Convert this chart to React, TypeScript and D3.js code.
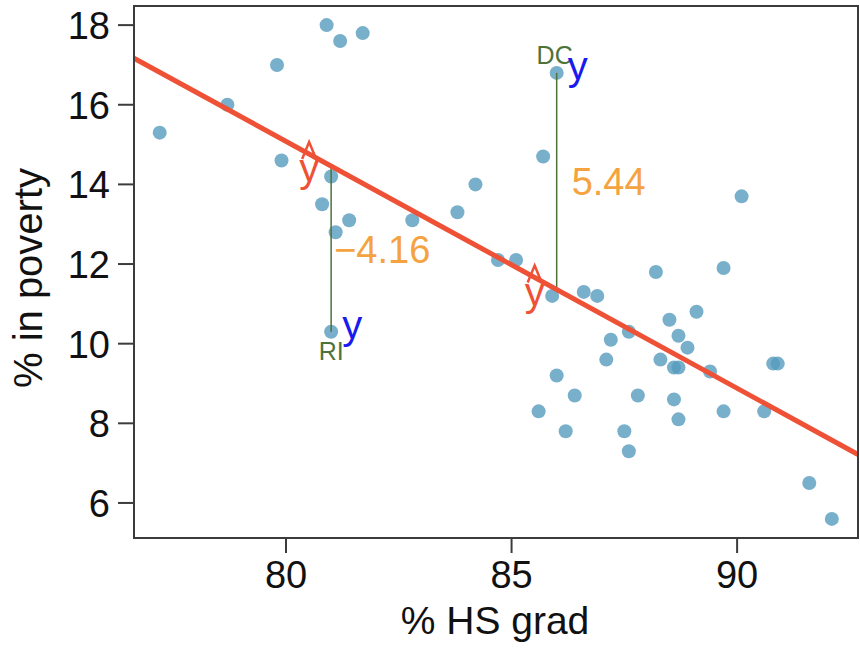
import React from 'react';
import * as d3 from 'd3';

const width = 860;
const height = 654;
const margin = {top: 6, right: 2, bottom: 116, left: 134};
const lineRed = '#ee5136';
const pointBlue = '#569bbd';
const green = '#4e7339';
const orange = '#f4a340';
const font = '"Liberation Sans", Arial, Helvetica, sans-serif';

// % HS grad and % in poverty for the 50 states + DC
const hsGrad = [
    77.2, 78.7, 79.8, 79.9, 80.9, 81.2, 81.7, 81.0, 80.8, 81.4,
    81.1, 81.0, 82.8, 83.8, 84.2, 84.7, 85.1, 85.7, 86.0, 85.9,
    86.6, 86.9, 88.2, 89.1, 88.5, 87.6, 88.7, 87.2, 88.9, 87.1,
    88.3, 88.6, 88.7, 86.0, 86.4, 87.8, 88.6, 85.6, 88.7, 86.2,
    87.5, 87.6, 90.1, 89.7, 89.4, 90.8, 90.9, 89.7, 90.6, 91.6,
    92.1,
];
const poverty = [
    15.3, 16.0, 17.0, 14.6, 18.0, 17.6, 17.8, 14.2, 13.5, 13.1,
    12.8, 10.3, 13.1, 13.3, 14.0, 12.1, 12.1, 14.7, 16.8, 11.2,
    11.3, 11.2, 11.8, 10.8, 10.6, 10.3, 10.2, 10.1, 9.9, 9.6,
    9.6, 9.4, 9.4, 9.2, 8.7, 8.7, 8.6, 8.3, 8.1, 7.8,
    7.8, 7.3, 13.7, 11.9, 9.3, 9.5, 9.5, 8.3, 8.3, 6.5,
    5.6,
];

// least squares fit
const intercept = 64.68;
const slope = -0.62;

// annotated states (index into the arrays above)
const labelNames = ['RI', 'DC'];
const labelIndex = [11, 18];
const labelAbove = [false, true];

const xTicks = [80, 85, 90];
const yTicks = [6, 8, 10, 12, 14, 16, 18];

const xScale = d3.scaleLinear()
    .domain([76.63, 92.68])
    .range([margin.left, width - margin.right]);
const yScale = d3.scaleLinear()
    .domain([5.12, 18.48])
    .range([height - margin.bottom, margin.top]);

const fit = (x: number) => intercept + slope * x;

const fitLine = d3.line<number>()
    .x(d => xScale(d))
    .y(d => yScale(fit(d)));

export default function App() {
    const [x0, x1] = xScale.domain();
    const [yBottom] = yScale.range();
    const data = hsGrad.map((h, i) => ({h, p: poverty[i]}));

    return (
        <svg width={width} height={height} style={{position: 'absolute', left: 0, top: 0, background: '#fff'}}
             fontFamily={font}>
            {/* points */}
            <g>
                {data.map((d, i) => (
                    <circle key={i} cx={xScale(d.h)} cy={yScale(d.p)} r={7}
                            fill={pointBlue} fillOpacity={0.8}/>
                ))}
            </g>

            {/* residual segments */}
            {labelIndex.map((idx, k) => {
                const h = hsGrad[idx];
                const p = poverty[idx];
                const px = xScale(h);
                return (
                    <line key={'seg' + k} x1={px} x2={px} y1={yScale(p)} y2={yScale(fit(h))}
                          stroke={green} strokeWidth={1.5}/>
                );
            })}

            {/* regression line */}
            <path d={fitLine([x0, x1]) || ''} fill='none' stroke={lineRed} strokeWidth={5}/>

            {/* annotations */}
            {labelIndex.map((idx, k) => {
                const h = hsGrad[idx];
                const p = poverty[idx];
                const px = xScale(h);
                const py = yScale(p);
                const pyHat = yScale(fit(h));
                const res = p - fit(h);
                const resText = (res < 0 ? '\u2212' : '') + Math.abs(res).toFixed(2);
                const midY = (py + pyHat) / 2;
                return (
                    <g key={'ann' + k}>
                        <text x={labelAbove[k] ? px - 2 : px} y={labelAbove[k] ? py - 9 : py + 28}
                              textAnchor='middle' fontSize={25} fill={green}>{labelNames[k]}</text>
                        <text x={px + 11} y={py + 7} fontSize={40} fill='#1a1aee'>y</text>
                        <text x={px - 22} y={pyHat + 16} textAnchor='middle' fontSize={40}
                              fill={lineRed}>y</text>
                        <path d={`M${px - 29},${pyHat - 7}L${px - 22},${pyHat - 24}L${px - 15},${pyHat - 7}`}
                              fill='none' stroke={lineRed} strokeWidth={2.5}/>
                        <text x={labelAbove[k] ? px + 15 : px + 3} y={midY + 14} fontSize={38}
                              fill={orange}>{resText}</text>
                    </g>
                );
            })}

            {/* frame */}
            <rect x={margin.left} y={margin.top} width={width - margin.left - margin.right}
                  height={height - margin.top - margin.bottom} fill='none' stroke='#3c3c3c' strokeWidth={2}/>

            {/* y axis */}
            <g>
                {yTicks.map(t => (
                    <g key={t}>
                        <line x1={margin.left - 16} x2={margin.left} y1={yScale(t)} y2={yScale(t)}
                              stroke='#3c3c3c' strokeWidth={2}/>
                        <text x={margin.left - 24} y={yScale(t) + 14} textAnchor='end' fontSize={38}
                              fill='#111'>{t}</text>
                    </g>
                ))}
            </g>

            {/* x axis */}
            <g>
                {xTicks.map(t => (
                    <g key={t}>
                        <line x1={xScale(t)} x2={xScale(t)} y1={yBottom} y2={yBottom + 15}
                              stroke='#3c3c3c' strokeWidth={2}/>
                        <text x={xScale(t)} y={588} textAnchor='middle' fontSize={38} fill='#111'>{t}</text>
                    </g>
                ))}
            </g>

            <text x={495} y={634} textAnchor='middle' fontSize={39} fill='#111'>% HS grad</text>
            <text transform={`translate(42, 278) rotate(-90)`} textAnchor='middle' fontSize={40}
                  fill='#111'>% in poverty</text>
        </svg>
    );
}
